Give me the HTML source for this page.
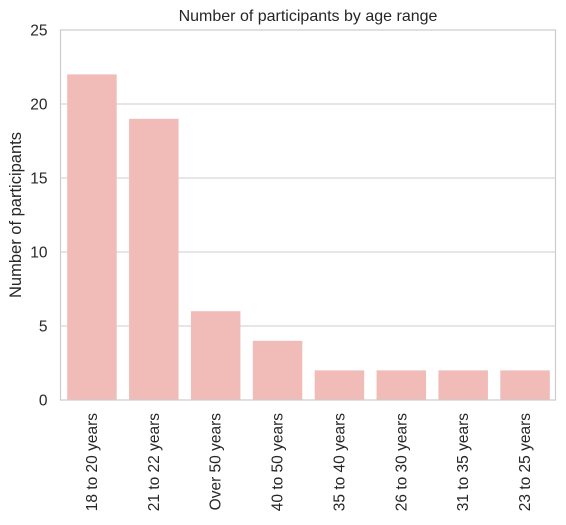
<!DOCTYPE html>
<html><head><meta charset="utf-8"><style>
body{margin:0;background:#fff;}
svg text{font-family:"Liberation Sans",Arial,sans-serif;fill:#262626;}
</style></head><body>
<svg id="chart" width="566" height="520"></svg>
<script>
const categories=["18 to 20 years","21 to 22 years","Over 50 years","40 to 50 years","35 to 40 years","26 to 30 years","31 to 35 years","23 to 25 years"];
const values=[22,19,6,4,2,2,2,2];
const yTicks=[0,5,10,15,20,25];
const svg=document.getElementById('chart');
const NS='http://www.w3.org/2000/svg';
const L=60.5,R=555.5,T=30,B=400,yMax=25;
const y=v=>B-(v/yMax)*(B-T);
const step=(R-L)/categories.length;
const x=i=>L+step*i;
function mk(tag,attrs,parent){const e=document.createElementNS(NS,tag);for(const k in attrs)e.setAttribute(k,attrs[k]);(parent||svg).appendChild(e);return e;}
yTicks.forEach(t=>{
  const g=mk('line',{x1:L,x2:R,y1:y(t),y2:y(t),stroke:'#cccccc','stroke-width':1});
  
  
  const tx=mk('text',{x:L-13,y:y(t)+5.5,'text-anchor':'end','font-size':15.5});
  tx.textContent=t;
  
  
});
values.forEach((v,i)=>{
  const b=mk('rect',{x:x(i)+step*0.1+0.5,y:y(v),width:step*0.8,height:B-y(v),fill:'#f1bbb8'});
  
  
  const cx=x(i)+step/2+5.5;
  const tx=mk('text',{x:0,y:0,'text-anchor':'end','font-size':15.5,transform:`translate(${cx},413) rotate(-90)`});
  tx.textContent=categories[i];
  
  
});
const fr=mk('rect',{x:L,y:T,width:R-L,height:B-T,fill:'none',stroke:'#cccccc','stroke-width':1.2});


const title=mk('text',{x:(L+R)/2,y:21,'text-anchor':'middle','font-size':16});
title.textContent='Number of participants by age range';


const yl=mk('text',{x:0,y:0,'text-anchor':'middle','font-size':16.5,transform:`translate(21,${(T+B)/2}) rotate(-90)`});
yl.textContent='Number of participants';


</script>
</body></html>
